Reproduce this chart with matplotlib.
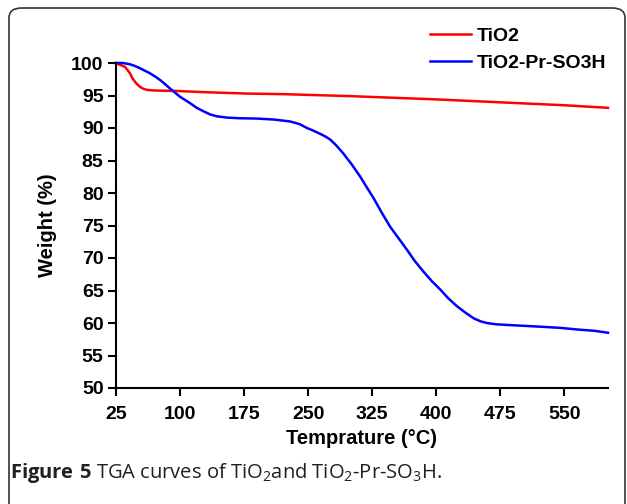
import matplotlib
matplotlib.use("Agg")
import matplotlib.pyplot as plt
from matplotlib.patches import FancyBboxPatch

# TGA data (temperature in degC, weight in %)
tio2_t = [25, 28, 32, 35.5, 38, 41.4, 44, 47.3, 50, 53, 56, 59, 62, 66.8, 75, 96, 131,
          178, 223, 300, 400, 500, 550, 601]
tio2_w = [100, 99.8, 99.6, 99.4, 99.0, 98.4, 97.7, 97.1, 96.7, 96.35, 96.1, 95.95, 95.85,
          95.8, 95.75, 95.7, 95.5, 95.3, 95.2, 94.9, 94.4, 93.8, 93.5, 93.1]

sulf_t = [25, 33, 41.4, 47, 53, 59, 65, 71, 76.5, 82, 88, 94, 100, 106, 112, 119.5, 127, 135,
          143, 155, 170, 190, 210, 229, 240, 248.5, 256, 264, 270, 276, 283, 291, 301, 311,
          318, 326.6, 336, 346, 356, 366, 375, 385, 395, 405, 414, 424, 434, 444, 452, 459,
          470, 483, 505, 526, 545, 565, 585, 601]
sulf_w = [100, 100, 99.8, 99.55, 99.2, 98.8, 98.4, 97.9, 97.4, 96.8, 96.1, 95.45, 94.8,
          94.3, 93.8, 93.1, 92.6, 92.1, 91.8, 91.6, 91.5, 91.45, 91.3, 91.0, 90.6, 90.0,
          89.6, 89.1, 88.7, 88.2, 87.3, 86.1, 84.4, 82.5, 81.0, 79.2, 77.0, 74.8, 73.0,
          71.2, 69.5, 67.9, 66.4, 65.1, 63.8, 62.6, 61.6, 60.7, 60.25, 60.0, 59.8, 59.7,
          59.55, 59.4, 59.25, 59.0, 58.8, 58.5]

xticks = [25, 100, 175, 250, 325, 400, 475, 550]
yticks = list(range(50, 101, 5))

plt.rcParams["font.family"] = ["Liberation Sans", "DejaVu Sans"]
plt.rcParams["mathtext.fontset"] = "custom"
plt.rcParams["mathtext.rm"] = "Open Sans"
plt.rcParams["mathtext.bf"] = "Open Sans:bold"

fig = plt.figure(figsize=(6.27, 5.04), dpi=100)
W, H = 627, 504

# rounded frame around the figure panel
frame = FancyBboxPatch((9 / W, -0.05), (625 - 9) / W, (504 - 8) / H + 0.05,
                       boxstyle="round,pad=0,rounding_size=0.02",
                       transform=fig.transFigure, fill=False,
                       edgecolor="#333333", linewidth=1.2, clip_on=False)
fig.patches.append(frame)

ax = fig.add_axes([116 / W, (H - 388) / H, (608 - 116) / W, (388 - 63) / H])
ax.plot(tio2_t, tio2_w, color="#ff0000", lw=1.8, label="TiO2", clip_on=False)
ax.plot(sulf_t, sulf_w, color="#0000ff", lw=1.8, label="TiO2-Pr-SO3H", clip_on=False)

ax.set_xlim(25, 601)
ax.set_ylim(50, 100)
ax.set_xticks(xticks)
ax.set_yticks(yticks)
for s in ("top", "right"):
    ax.spines[s].set_visible(False)
for s in ("left", "bottom"):
    ax.spines[s].set_linewidth(1.5)
ax.tick_params(direction="out", length=6, width=1.5, labelsize=14, pad=3)
for lab in ax.get_xticklabels() + ax.get_yticklabels():
    lab.set_fontweight("bold")
ax.tick_params(axis="x", pad=7)

ax.set_xlabel("Temprature (°C)", fontsize=14.5, fontweight="bold", labelpad=4)
ax.set_ylabel("Weight (%)", fontsize=14.5, fontweight="bold", labelpad=10)

leg = ax.legend(loc="upper left", bbox_to_anchor=(0.638, 1.11), frameon=False,
                prop={"weight": "bold", "size": 14}, handlelength=2.1, handletextpad=0.3,
                labelspacing=0.5, borderpad=0, borderaxespad=0)

fig.text(10 / W, 1 - 473 / H,
         r"$\mathbf{Figure\ 5}$ TGA curves of TiO$_2$and TiO$_2$-Pr-SO$_3$H.",
         fontsize=14.5, family="Open Sans", va="center", ha="left", color="#231f20")

fig.savefig("out.png", dpi=100)
